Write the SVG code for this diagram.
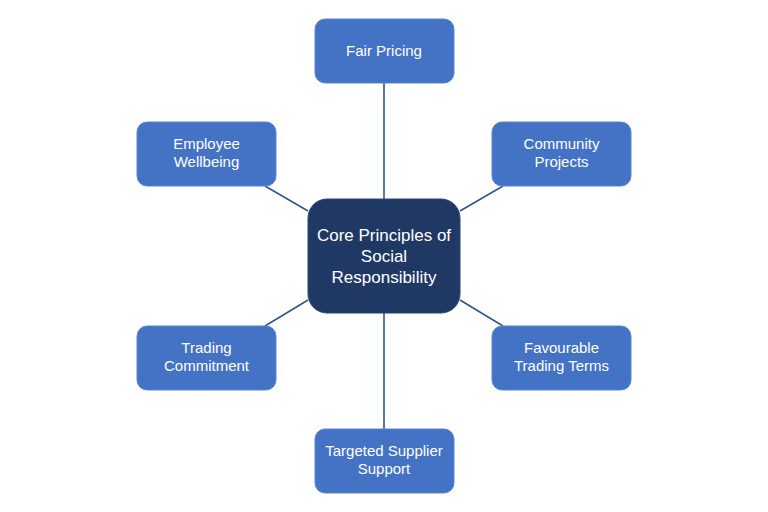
<svg xmlns="http://www.w3.org/2000/svg" width="768" height="512" viewBox="0 0 768 512">
<style>
.box{fill:#4472C4;stroke:#5B85CF;stroke-width:1}
.core{fill:#1F3864;stroke:#2A4676;stroke-width:1}
.t{font-family:"Liberation Sans",Arial,sans-serif;font-size:15px;fill:#FFFFFF;text-anchor:middle}
.tc{font-family:"Liberation Sans",Arial,sans-serif;font-size:17px;fill:#FFFFFF;text-anchor:middle}
.conn line{stroke:#2F5597;stroke-width:1.6}
</style>
<rect width="768" height="512" fill="#FFFFFF"/>
<g id="connectors" class="conn">
<line x1="384" y1="83" x2="384" y2="199"/>
<line x1="384" y1="313" x2="384" y2="429"/>
<line x1="265" y1="186" x2="308" y2="211"/>
<line x1="460" y1="211" x2="503" y2="186"/>
<line x1="265" y1="326" x2="308" y2="300"/>
<line x1="460" y1="300" x2="503" y2="326"/>
</g>
<g id="core">
<rect class="core" x="308" y="199" width="152" height="114" rx="19"/>
<text class="tc" x="384" y="241">Core Principles of</text>
<text class="tc" x="384" y="262">Social</text>
<text class="tc" x="384" y="283">Responsibility</text>
</g>
<g id="fair-pricing">
<rect class="box" x="315" y="19" width="139" height="64" rx="10"/>
<text class="t" x="384" y="56">Fair Pricing</text>
</g>
<g id="employee-wellbeing">
<rect class="box" x="137" y="122" width="139" height="64" rx="10"/>
<text class="t" x="206.5" y="149">Employee</text>
<text class="t" x="206.5" y="167">Wellbeing</text>
</g>
<g id="community-projects">
<rect class="box" x="492" y="122" width="139" height="64" rx="10"/>
<text class="t" x="561.5" y="149">Community</text>
<text class="t" x="561.5" y="167">Projects</text>
</g>
<g id="trading-commitment">
<rect class="box" x="137" y="326" width="139" height="64" rx="10"/>
<text class="t" x="206.5" y="353">Trading</text>
<text class="t" x="206.5" y="371">Commitment</text>
</g>
<g id="favourable-trading-terms">
<rect class="box" x="492" y="326" width="139" height="64" rx="10"/>
<text class="t" x="561.5" y="353">Favourable</text>
<text class="t" x="561.5" y="371">Trading Terms</text>
</g>
<g id="targeted-supplier-support">
<rect class="box" x="315" y="429" width="139" height="64" rx="10"/>
<text class="t" x="384" y="456">Targeted Supplier</text>
<text class="t" x="384" y="474">Support</text>
</g>
</svg>
